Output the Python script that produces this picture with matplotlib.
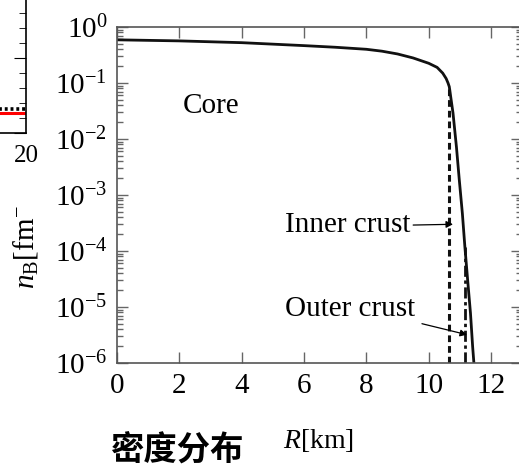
import numpy as np
import matplotlib
matplotlib.use('Agg')
import matplotlib.pyplot as plt
from matplotlib.ticker import LogLocator, MultipleLocator, NullFormatter

plt.rcParams['font.family'] = ['Liberation Serif', 'DejaVu Sans']
plt.rcParams['mathtext.fontset'] = 'custom'
plt.rcParams['mathtext.rm'] = 'Liberation Serif'
plt.rcParams['mathtext.it'] = 'Liberation Serif:italic'
plt.rcParams['mathtext.bf'] = 'Liberation Serif:bold'
plt.rcParams['axes.unicode_minus'] = False

# density profile
R_km = [0, 2, 4, 6, 7, 8, 8.5, 9, 9.5, 10, 10.27, 10.45, 10.56, 10.62, 10.66,
        10.72, 10.78, 10.89, 10.98, 11.08, 11.16, 11.25, 11.34, 11.41, 11.45]
n_B = [0.59, 0.565, 0.525, 0.465, 0.435, 0.40, 0.37, 0.33, 0.28, 0.225, 0.19,
       0.15, 0.12, 0.10, 0.086, 0.05, 0.029, 7.2e-3, 1.9e-3, 4.7e-4, 1.2e-4,
       3.0e-5, 7.8e-6, 1.95e-6, 1e-6]

# crust boundaries
inner_R, inner_top = 10.65, 0.086
outer_R, outer_top = 11.16, 1.2e-4

x_ticks = [0, 2, 4, 6, 8, 10, 12]

# neighbouring panel (only a sliver shows on the left)
left_x = [0, 20]
left_red = [1.33, 1.33]
left_dot = [1.6, 1.6]

fig = plt.figure(figsize=(5.19, 4.70), dpi=100)

# --- cut-off neighbour panel
ax0 = fig.add_axes([-0.4, 337 / 470, 0.4 + 26 / 519, 0.5])
ax0.plot(left_x, left_red, color='red', lw=2.2)
ax0.plot(left_x, left_dot, color='black', lw=2.6, ls=(0, (0.8, 0.8)))
ax0.set_xlim(0, 20)
ax0.set_ylim(0, 235 / 15)
ax0.set_xticks([20])
ax0.yaxis.set_major_locator(MultipleLocator(5))
ax0.yaxis.set_minor_locator(MultipleLocator(1))
ax0.tick_params(axis='y', which='both', direction='in', left=False, right=True,
                labelleft=False)
ax0.tick_params(axis='y', which='major', length=9)
ax0.tick_params(axis='y', which='minor', length=5)
ax0.tick_params(axis='x', direction='in', length=0, labelsize=18, pad=9)
for s in ax0.spines.values():
    s.set_linewidth(1.2)

# --- main panel
ax = fig.add_axes([117 / 519, 107 / 470, 13 * 31.17 / 519, 336 / 470])
ax.plot(R_km, n_B, color='#111111', lw=2)
ax.vlines(inner_R, 1e-6, inner_top, colors='#111111', lw=2.2,
          linestyles=[(0, (2.2, 1.3))])
ax.vlines(outer_R, 1e-6, outer_top, colors='#111111', lw=2.0,
          linestyles=[(0, (4, 1.3, 1.2, 1.3))])

ax.set_yscale('log')
ax.set_xlim(0, 13)
ax.set_ylim(1e-6, 1)
ax.set_xticks(x_ticks)
ax.yaxis.set_major_locator(LogLocator(base=10, numticks=10))
ax.yaxis.set_minor_locator(LogLocator(base=10, subs=np.arange(2, 10), numticks=10))
ax.yaxis.set_minor_formatter(NullFormatter())

ax.tick_params(which='both', direction='in', top=True, right=True,
               color='#666666', width=1, labelsize=21, pad=7)
ax.tick_params(which='major', length=8)
ax.tick_params(which='minor', length=4)
for s in ax.spines.values():
    s.set_color('#555555')
    s.set_linewidth(1.2)

ax.text(2.12, 0.039, 'Core', fontsize=21, va='center')
ax.annotate('Inner crust', xy=(10.78, 3e-4), xytext=(5.39, 2.9e-4),
            fontsize=21, va='center',
            arrowprops=dict(arrowstyle='-|>', color='black', lw=0.9,
                            mutation_scale=10, relpos=(1.0, 0.5), shrinkA=0,
                            shrinkB=0))
ax.annotate('Outer crust', xy=(11.23, 3.2e-6), xytext=(5.39, 9.2e-6),
            fontsize=21, va='center',
            arrowprops=dict(arrowstyle='-|>', color='black', lw=0.9,
                            mutation_scale=10, relpos=(1.0, 0.0), shrinkA=3,
                            shrinkB=0))

ax.set_xlabel(r'$R$[km]', fontsize=20)
ax.xaxis.set_label_coords(0.5 * 402 / 405, -0.19)
ax.set_ylabel(r'$n_\mathrm{B}$[fm$^{-}$', fontsize=21)
ax.yaxis.set_label_coords(-0.19, 0.345)

fig.text(110 / 519, 19 / 470, '密度分布', family=['Noto Sans CJK SC', 'DejaVu Sans'],
         fontsize=24, fontweight='bold', va='center', ha='left')

fig.savefig('out.png', dpi=100)
